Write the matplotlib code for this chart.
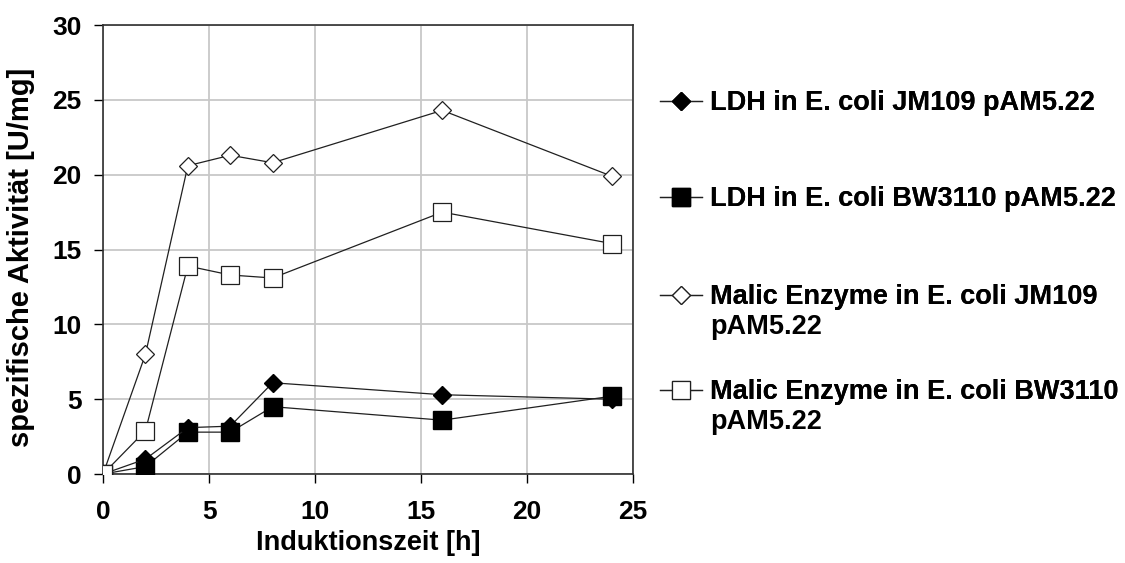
import matplotlib.pyplot as plt

# Induktionszeit [h]
zeit = [0, 2, 4, 6, 8, 16, 24]

# spezifische Aktivität [U/mg]
ldh_jm109 = [0.0, 1.0, 3.1, 3.2, 6.1, 5.3, 5.0]
ldh_bw3110 = [0.0, 0.5, 2.8, 2.8, 4.5, 3.6, 5.2]
me_jm109 = [0.0, 8.0, 20.6, 21.3, 20.8, 24.3, 19.9]
me_bw3110 = [0.0, 2.9, 13.9, 13.3, 13.1, 17.5, 15.4]

# legend labels: first line in the legend, second line (if any) below
labels = ['LDH in E. coli JM109 pAM5.22',
          'LDH in E. coli BW3110 pAM5.22',
          'Malic Enzyme in E. coli JM109',
          'Malic Enzyme in E. coli BW3110']
labels2 = ['', '', 'pAM5.22', 'pAM5.22']

plt.rcParams['font.family'] = ['Liberation Sans', 'DejaVu Sans']
plt.rcParams['font.weight'] = 'bold'

fig = plt.figure(figsize=(11.25, 5.63), dpi=100)
ax = fig.add_axes([0.0916, 0.158, 0.4711, 0.7975])

lw = 0.9
lc = '#202020'
h1, = ax.plot(zeit, ldh_jm109, color=lc, lw=lw, marker='D', ms=8.8,
              mfc='black', mec='black', label=labels[0], zorder=4)
h2, = ax.plot(zeit, ldh_bw3110, color=lc, lw=lw, marker='s', ms=12.5,
              mfc='black', mec='black', label=labels[1], zorder=3)
h3, = ax.plot(zeit, me_jm109, color=lc, lw=lw, marker='D', ms=8.8,
              mfc='white', mec='#202020', mew=0.9, label=labels[2], zorder=3)
h4, = ax.plot(zeit, me_bw3110, color=lc, lw=lw, marker='s', ms=12.5,
              mfc='white', mec='#202020', mew=0.9, label=labels[3], zorder=4)

ax.set_xlim(0, 25)
ax.set_ylim(0, 30)
ax.set_xticks(range(0, 26, 5))
ax.set_yticks(range(0, 31, 5))
ax.grid(True, color='#c8c8c8', lw=1.3)
ax.set_axisbelow(True)
for s in ax.spines.values():
    s.set_color('#303030')
    s.set_linewidth(1.2)
ax.tick_params(direction='out', length=6.5, width=1, labelsize=19)
ax.tick_params(axis='x', pad=12)
ax.tick_params(axis='y', pad=9)
for t in ax.get_xticklabels() + ax.get_yticklabels():
    t.set_fontweight('bold')

ax.set_xlabel('Induktionszeit [h]', fontsize=19.5, fontweight='bold')
ax.xaxis.set_label_coords(0.5, -0.124)
ax.set_ylabel('spezifische Aktivität [U/mg]', fontsize=21, fontweight='bold')
ax.yaxis.set_label_coords(-0.129, 0.482)

# legend entries placed individually, handle aligned with first text line
legend_y = [0.817, 0.6465, 0.4725, 0.3037]
line2_y = [None, None, 0.419, 0.2504]
for h, y, y2, txt in zip([h1, h2, h3, h4], legend_y, line2_y, labels2):
    leg = fig.legend(handles=[h], loc='center left', bbox_to_anchor=(0.5867, y),
                     frameon=False, fontsize=19.5, handlelength=1.55,
                     handletextpad=0.3, borderpad=0, borderaxespad=0)
    for t in leg.get_texts():
        t.set_fontweight('bold')
    fig.add_artist(leg)
    if y2 is not None:
        fig.text(0.631, y2, txt, fontsize=19.5, fontweight='bold', va='center')

fig.savefig('out.png', dpi=100)
